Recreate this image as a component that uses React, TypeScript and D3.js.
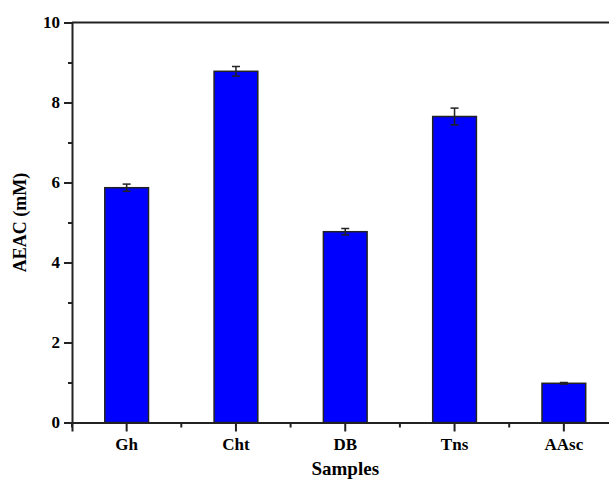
import { useEffect, useRef } from "react";
import * as d3 from "d3";

const samples = ["Gh", "Cht", "DB", "Tns", "AAsc"];
const aeac = [5.87, 8.78, 4.77, 7.65, 0.98];
const aeacErr = [0.09, 0.12, 0.08, 0.21, 0.02];
const yTicks = [0, 2, 4, 6, 8, 10];

const App = () => {
  const svgRef = useRef<SVGSVGElement | null>(null);

  useEffect(() => {
    const width = 609;
    const height = 484;
    const margin = { top: 22.5, left: 72 };
    const step = 109.3;
    const plotH = 400;
    const font = "'Liberation Serif', 'Times New Roman', serif";

    const svg = d3.select(svgRef.current);
    svg.selectAll("*").remove();
    svg.attr("width", width).attr("height", height);

    const x = d3
      .scaleBand()
      .domain(samples)
      .range([margin.left, margin.left + step * samples.length])
      .paddingInner(0.6)
      .paddingOuter(0.3);
    const y = d3
      .scaleLinear()
      .domain([0, 10])
      .range([margin.top + plotH, margin.top]);

    const data = samples.map((s, i) => ({ s, v: aeac[i], e: aeacErr[i] }));

    // bars
    svg
      .append("g")
      .selectAll("rect")
      .data(data)
      .enter()
      .append("rect")
      .attr("x", (d) => x(d.s)!)
      .attr("y", (d) => y(d.v))
      .attr("width", x.bandwidth())
      .attr("height", (d) => y(0) - y(d.v))
      .attr("fill", "#0000ff")
      .attr("stroke", "#222")
      .attr("stroke-width", 1.5);

    // error bars
    const eb = svg.append("g").attr("stroke", "#222").attr("stroke-width", 1.5);
    data.forEach((d) => {
      const cx = x(d.s)! + x.bandwidth() / 2;
      eb.append("line")
        .attr("x1", cx).attr("x2", cx)
        .attr("y1", y(d.v + d.e)).attr("y2", y(d.v - d.e));
      [d.v + d.e, d.v - d.e].forEach((v) => {
        eb.append("line")
          .attr("x1", cx - 4).attr("x2", cx + 4)
          .attr("y1", y(v)).attr("y2", y(v));
      });
    });

    // y axis
    const yAxis = svg
      .append("g")
      .attr("transform", `translate(${margin.left},0)`)
      .call(
        d3.axisLeft(y).tickValues(d3.range(0, 10.01, 1)).tickSize(0).tickFormat(() => "")
      );
    yAxis.select(".domain").attr("stroke", "#222").attr("stroke-width", 2);
    yAxis
      .selectAll(".tick line")
      .attr("x2", (d) => ((d as number) % 2 === 0 ? -8 : -4))
      .attr("stroke", "#222")
      .attr("stroke-width", 2);
    yTicks.forEach((t) => {
      svg
        .append("text")
        .attr("x", margin.left - 12)
        .attr("y", y(t))
        .attr("dy", "0.35em")
        .attr("text-anchor", "end")
        .attr("font-family", font)
        .attr("font-weight", "bold")
        .attr("font-size", 17)
        .text(t);
    });

    // x axis
    const xAxis = svg
      .append("g")
      .attr("transform", `translate(0,${y(0)})`)
      .call(d3.axisBottom(x).tickSize(9).tickPadding(6));
    xAxis.select(".domain").attr("stroke", "#222").attr("stroke-width", 2);
    xAxis.selectAll(".tick line").attr("stroke", "#222").attr("stroke-width", 2);
    xAxis
      .selectAll(".tick text")
      .attr("font-family", font)
      .attr("font-weight", "bold")
      .attr("font-size", 17)
      .attr("fill", "#000");
    // minor ticks at band edges
    d3.range(samples.length + 1).forEach((i) => {
      const mx = margin.left + i * step;
      xAxis
        .append("line")
        .attr("x1", mx).attr("x2", mx)
        .attr("y1", 0).attr("y2", 5)
        .attr("stroke", "#222")
        .attr("stroke-width", 2);
    });

    // top frame
    svg
      .append("line")
      .attr("x1", margin.left)
      .attr("x2", margin.left + step * samples.length)
      .attr("y1", y(10))
      .attr("y2", y(10))
      .attr("stroke", "#222")
      .attr("stroke-width", 2);

    // axis titles
    svg
      .append("text")
      .attr("x", margin.left + (step * samples.length) / 2)
      .attr("y", 475)
      .attr("text-anchor", "middle")
      .attr("font-family", font)
      .attr("font-weight", "bold")
      .attr("font-size", 19)
      .text("Samples");
    svg
      .append("text")
      .attr("transform", `translate(26,${y(5)}) rotate(-90)`)
      .attr("text-anchor", "middle")
      .attr("font-family", font)
      .attr("font-weight", "bold")
      .attr("font-size", 18)
      .text("AEAC (mM)");
  }, []);

  return (
    <svg
      ref={svgRef}
      style={{ position: "absolute", left: 0, top: 0, background: "#fff" }}
    ></svg>
  );
};

export default App;
